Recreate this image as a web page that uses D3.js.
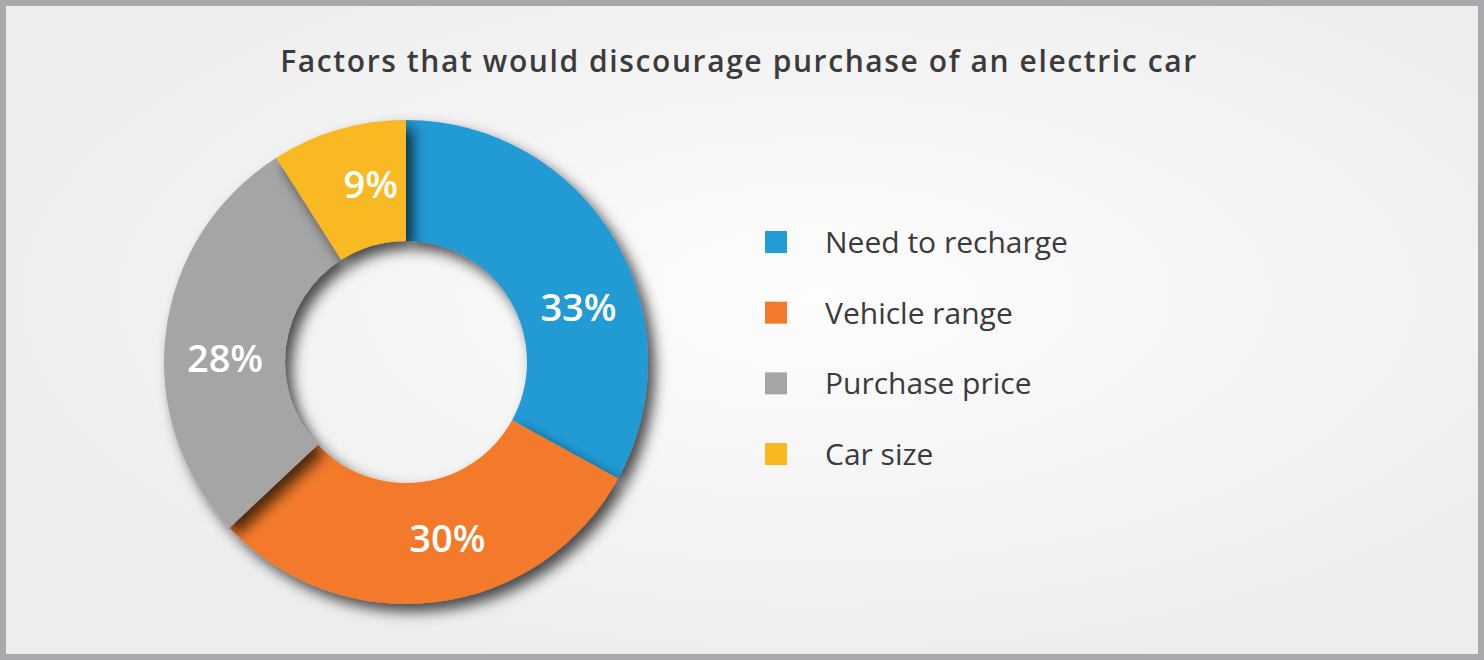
<!DOCTYPE html>
<html>
<head>
<meta charset="utf-8">
<script src="https://cdn.jsdelivr.net/npm/d3@7"></script>
<style>
  html, body { margin: 0; padding: 0; background: #f1f1f1; }
  svg { display: block; font-family: "Open Sans", "Lato", sans-serif; }
</style>
</head>
<body>
<div id="chart"></div>
<script>
// Chart data
const categories = ["Need to recharge", "Vehicle range", "Purchase price", "Car size"];
const shares = [33, 30, 28, 9];
const sliceColors = ["#239bd5", "#f37a2b", "#a5a5a5", "#f8b920"];
const chartTitle = "Factors that would discourage purchase of an electric car";

const W = 1484, H = 660;
const cx = 406, cy = 362, outerR = 242, innerR = 121;
const labelR = 181;
// labels in the original are nudged around the ring (degrees)
const labelNudge = [13, -6, -6, 5];

const svg = d3.select("#chart").append("svg")
    .attr("width", W)
    .attr("height", H);

const defs = svg.append("defs");

// soft radial background
const bg = defs.append("radialGradient")
    .attr("id", "bgGrad")
    .attr("cx", "55%").attr("cy", "45%").attr("r", "60%");
bg.append("stop").attr("offset", "0%").attr("stop-color", "#fdfdfd");
bg.append("stop").attr("offset", "100%").attr("stop-color", "#ededed");

// drop shadow for each slice
const shadow = defs.append("filter")
    .attr("id", "shadow")
    .attr("x", "-30%").attr("y", "-30%")
    .attr("width", "160%").attr("height", "160%");
shadow.append("feDropShadow")
    .attr("dx", 7).attr("dy", 8)
    .attr("stdDeviation", 7)
    .attr("flood-color", "#000")
    .attr("flood-opacity", 0.7);

svg.append("rect")
    .attr("x", 3).attr("y", 3)
    .attr("width", W - 6).attr("height", H - 6)
    .attr("fill", "url(#bgGrad)")
    .attr("stroke", "#a8a9ac")
    .attr("stroke-width", 6);

svg.append("text")
    .attr("x", 739)
    .attr("y", 72)
    .attr("text-anchor", "middle")
    .attr("font-size", 30)
    .attr("font-weight", 600)
    .attr("letter-spacing", 1.6)
    .attr("fill", "#3b3b3b")
    .text(chartTitle);

// Donut
const pie = d3.pie().sort(null).value(d => d);
const arcs = pie(shares);

const arc = d3.arc().innerRadius(innerR).outerRadius(outerR);

const g = svg.append("g")
    .attr("transform", `translate(${cx},${cy})`);

g.selectAll("path.slice")
    .data(arcs)
    .enter().append("path")
    .attr("class", "slice")
    .attr("d", arc)
    .attr("fill", (d, i) => sliceColors[i])
    .attr("filter", "url(#shadow)");

function labelPos(d, i) {
    const a = (d.startAngle + d.endAngle) / 2 + labelNudge[i] * Math.PI / 180;
    return [labelR * Math.sin(a), -labelR * Math.cos(a)];
}

g.selectAll("text.pct")
    .data(arcs)
    .enter().append("text")
    .attr("class", "pct")
    .attr("transform", (d, i) => `translate(${labelPos(d, i)})`)
    .attr("text-anchor", "middle")
    .attr("dy", "0.36em")
    .attr("font-size", 38)
    .attr("font-weight", 600)
    .attr("fill", "#ffffff")
    .text(d => d.data + "%");

// Legend
const legendY = d3.scalePoint()
    .domain(categories)
    .range([242, 454]);

const legend = svg.append("g");

const item = legend.selectAll("g.item")
    .data(categories)
    .enter().append("g")
    .attr("class", "item")
    .attr("transform", d => `translate(765,${legendY(d)})`);

item.append("rect")
    .attr("x", 0).attr("y", -11)
    .attr("width", 22).attr("height", 22)
    .attr("fill", (d, i) => sliceColors[i]);

item.append("text")
    .attr("x", 60)
    .attr("y", 11)
    .attr("font-size", 30)
    .attr("fill", "#3b3b3b")
    .text(d => d);
</script>
</body>
</html>
